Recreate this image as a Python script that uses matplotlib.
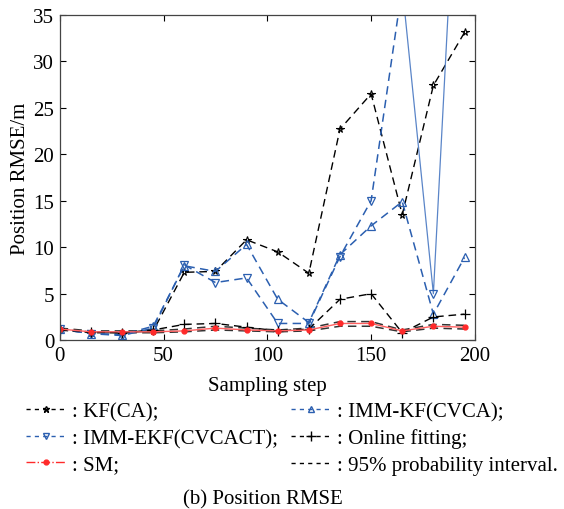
import matplotlib
matplotlib.use("Agg")
import matplotlib.pyplot as plt
import numpy as np
from matplotlib.lines import Line2D

plt.rcParams['font.family'] = ['Liberation Serif', 'DejaVu Serif']

steps = [0, 15, 30, 45, 60, 75, 90, 105, 120, 135, 150, 165, 180, 195]
kf_ca = [1.2, 0.8, 0.8, 1.0, 7.3, 7.4, 10.8, 9.5, 7.2, 22.7, 26.5, 13.5, 27.4, 33.1]
imm_kf = [1.2, 0.7, 0.6, 1.5, 8.0, 7.4, 10.3, 4.4, 1.9, 9.2, 12.3, 14.9, 2.8, 8.9]
imm_ekf = [1.2, 0.7, 0.5, 1.3, 8.1, 6.2, 6.7, 1.8, 1.8, 9.0, 15.0, 38.0, 5.0, 69.0]
online = [1.1, 0.9, 0.8, 1.1, 1.7, 1.8, 1.4, 1.0, 1.2, 4.4, 5.0, 0.8, 2.5, 2.8]
sm = [1.2, 0.9, 0.9, 0.9, 1.0, 1.3, 1.1, 1.0, 1.1, 1.8, 1.8, 1.0, 1.5, 1.4]
ci_upper = [1.3, 1.0, 1.0, 1.0, 1.2, 1.5, 1.3, 1.1, 1.3, 2.0, 2.0, 1.1, 1.7, 1.6]
ci_lower = [1.1, 0.8, 0.8, 0.8, 0.9, 1.1, 1.0, 0.9, 1.0, 1.5, 1.5, 0.9, 1.3, 1.2]

blue = '#2b5fb0'
red = '#ff2a2a'
dash = (5.5, 3.5)

fig = plt.figure(figsize=(5.64, 5.10), dpi=100)
ax = fig.add_axes([0.106, 0.331, 0.736, 0.638])

# 95% interval first, behind everything
ax.plot(steps, ci_upper, color='#333333', lw=1.1, dashes=dash)
ax.plot(steps, ci_lower, color='#333333', lw=1.1, dashes=dash)

ax.plot(steps, kf_ca, color='black', lw=1.0, dashes=dash,
        marker='*', ms=5.5, mfc='none', mew=0.8)
ax.plot(steps, imm_kf, color=blue, lw=1.1, dashes=dash,
        marker='^', ms=6, mfc='none', mew=0.9)
# IMM-EKF: dashed up to step 165, the out-of-range part shows as thin solid
ax.plot(steps[:12], imm_ekf[:12], color=blue, lw=1.1, dashes=dash,
        marker='v', ms=6, mfc='none', mew=0.9, markevery=list(range(11)))
ax.plot(steps[11:], imm_ekf[11:], color='#5a85c8', lw=0.9)
ax.plot(steps[12:13], imm_ekf[12:13], color=blue, ls='none',
        marker='v', ms=6, mfc='none', mew=0.9)
ax.plot(steps, online, color='black', lw=1.0, dashes=dash,
        marker='+', ms=7, mew=0.9)
ax.plot(steps, sm, color='#ff6060', lw=1.0,
        marker='o', ms=3.5, mfc=red, mec=red)

ax.set_xlim(0, 200)
ax.set_ylim(0, 35)
ax.set_xticks([0, 50, 100, 150, 200])
ax.set_yticks([0, 5, 10, 15, 20, 25, 30, 35])
ax.tick_params(direction='in', top=True, right=True, labelsize=15,
               length=4, width=0.8, pad=4)
for s in ax.spines.values():
    s.set_color('#444444')
    s.set_linewidth(0.9)
ax.set_xlabel('Sampling step', fontsize=15, labelpad=8)
ax.set_ylabel('Position RMSE/m', fontsize=15, labelpad=2)

handles = [
    Line2D([], [], color='black', lw=1.0, dashes=(3, 3), marker='*', ms=5, mfc='none'),
    Line2D([], [], color=blue, lw=1.0, dashes=(3, 3), marker='v', ms=5, mfc='none'),
    Line2D([], [], color=red, lw=1.0, ls='-.', marker='o', ms=3.5, mfc=red, mec=red),
    Line2D([], [], color=blue, lw=1.0, dashes=(3, 3), marker='^', ms=5, mfc='none'),
    Line2D([], [], color='black', lw=1.0, dashes=(3, 3), marker='+', ms=7),
    Line2D([], [], color='black', lw=1.0, dashes=(3, 3)),
]
labels = [': KF(CA);', ': IMM-EKF(CVCACT);', ': SM;',
          ': IMM-KF(CVCA);', ': Online fitting;', ': 95% probability interval.']
fig.legend(handles, labels, ncol=2, frameon=False, fontsize=15,
           loc='upper left', bbox_to_anchor=(0.031, 0.226),
           handlelength=1.9, handletextpad=0.3, columnspacing=0.65,
           labelspacing=0.33, borderaxespad=0)

fig.text(0.466, 0.02, '(b) Position RMSE', fontsize=15, ha='center', va='center')

fig.savefig('out.png', dpi=100)
